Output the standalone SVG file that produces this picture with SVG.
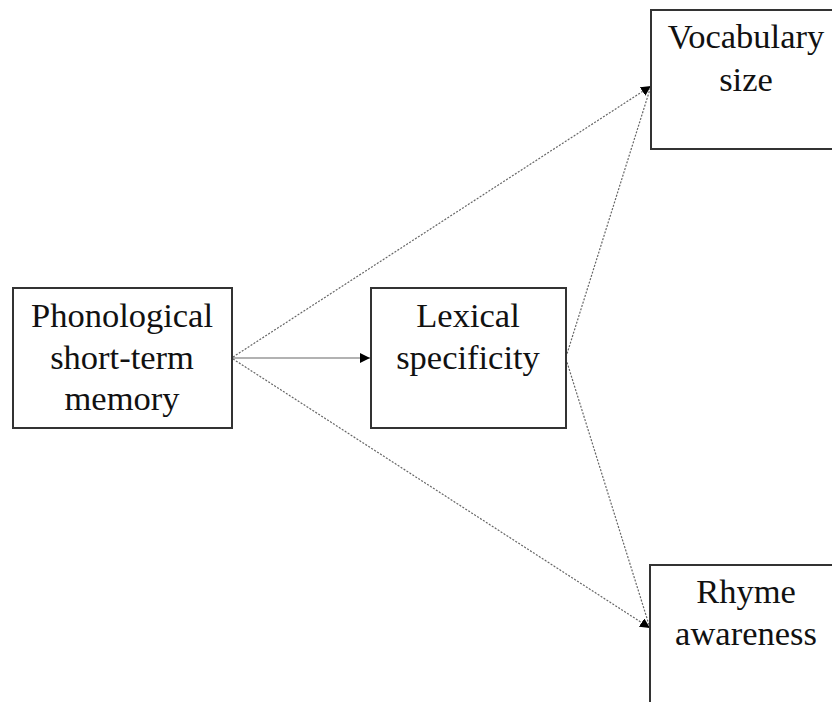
<svg xmlns="http://www.w3.org/2000/svg" width="832" height="702" viewBox="0 0 832 702">
<style>
.box{fill:#fff;stroke:#333;stroke-width:2}
.t{font-family:'Liberation Serif','Times New Roman','DejaVu Serif',serif;font-size:34.5px;fill:#111;text-anchor:middle}
.c{fill:none;stroke:#666;stroke-width:1.2}
.d{stroke-dasharray:2 1.5}
</style>
<defs>
<marker id="ah" viewBox="0 0 10 10" refX="10" refY="5" markerWidth="10" markerHeight="10" markerUnits="userSpaceOnUse" orient="auto">
<path d="M0,0 L10,5 L0,10 z" fill="#000"/>
</marker>
</defs>
<rect width="832" height="702" fill="#fff"/>
<g id="connectors">
<line class="c" x1="233" y1="358" x2="370" y2="358" marker-end="url(#ah)"/>
<line class="c d" x1="233" y1="357" x2="651" y2="86" marker-end="url(#ah)"/>
<line class="c d" x1="233" y1="359" x2="650" y2="628" marker-end="url(#ah)"/>
<line class="c d" x1="566" y1="357" x2="651" y2="86"/>
<line class="c d" x1="566" y1="359" x2="650" y2="628"/>
</g>
<g id="phon">
<rect class="box" x="13" y="288" width="219" height="140"/>
<text class="t" x="122" y="327">Phonological</text>
<text class="t" x="122" y="369">short-term</text>
<text class="t" x="122" y="410">memory</text>
</g>
<g id="lex">
<rect class="box" x="371" y="288" width="195" height="140"/>
<text class="t" x="468" y="327">Lexical</text>
<text class="t" x="468" y="369">specificity</text>
</g>
<g id="vocab">
<rect class="box" x="651" y="10" width="200" height="139"/>
<text class="t" x="746" y="48">Vocabulary</text>
<text class="t" x="746" y="91">size</text>
</g>
<g id="rhyme">
<rect class="box" x="650" y="565" width="200" height="160"/>
<text class="t" x="746" y="603">Rhyme</text>
<text class="t" x="746" y="645">awareness</text>
</g>
</svg>
